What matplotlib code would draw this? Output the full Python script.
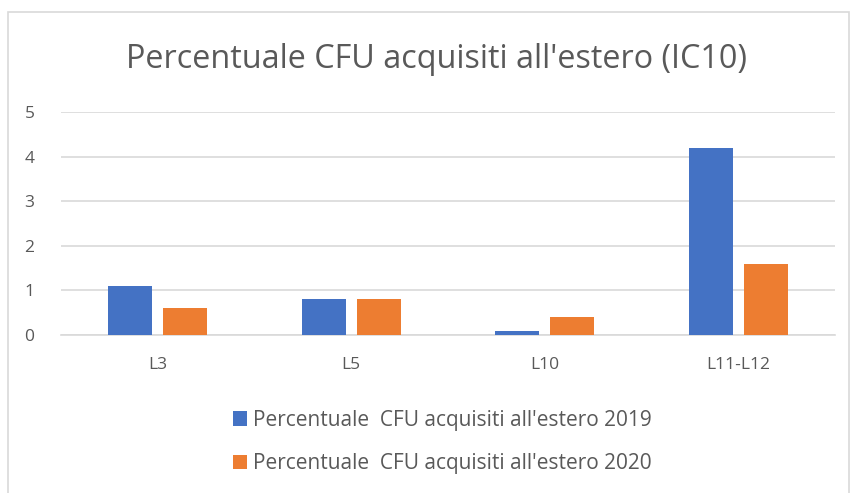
import numpy as np
import matplotlib.pyplot as plt
from matplotlib.patches import Rectangle

# data
categories = ['L3', 'L5', 'L10', 'L11-L12']
values_2019 = [1.1, 0.8, 0.1, 4.2]
values_2020 = [0.6, 0.8, 0.4, 1.6]
labels = ["Percentuale  CFU acquisiti all'estero 2019",
          "Percentuale  CFU acquisiti all'estero 2020"]
yticks = [0, 1, 2, 3, 4, 5]

plt.rcParams['font.family'] = ['Open Sans', 'DejaVu Sans']
txt = '#595959'

fig = plt.figure(figsize=(8.55, 4.93), dpi=100)
W, H = 855, 493

# chart frame
fig.patches.append(Rectangle((8 / W, -0.1), (849 - 8) / W, 1.1 - 12 / H,
                             transform=fig.transFigure, fill=False,
                             edgecolor='#d9d9d9', linewidth=1.2))

ax = fig.add_axes([61 / W, 1 - 335 / H, (835 - 61) / W, (335 - 112) / H])

x = np.arange(len(categories))
w = 0.227
off = (w + 0.057) / 2
ax.bar(x - off, values_2019, w, color='#4472c4', label=labels[0], zorder=3)
ax.bar(x + off, values_2020, w, color='#ed7d31', label=labels[1], zorder=3)

ax.set_xlim(-0.5, len(categories) - 0.5)
ax.set_ylim(0, 5)
ax.set_yticks(yticks)
ax.set_xticks(x)
ax.set_xticklabels(categories)
ax.yaxis.grid(True, color='#d9d9d9', linewidth=1.2, zorder=0)
ax.tick_params(length=0, colors=txt, labelsize=12.5)
ax.tick_params(axis='x', pad=16)
ax.tick_params(axis='y', pad=19)
for s in ax.spines.values():
    s.set_visible(False)
ax.spines['bottom'].set_visible(True)
ax.spines['bottom'].set_color('#d9d9d9')
ax.spines['bottom'].set_linewidth(1.2)

fig.text(437 / W, 1 - 60 / H, "Percentuale CFU acquisiti all'estero (IC10)",
         ha='center', va='center', fontsize=23.3, color=txt)

fig.legend(loc='center', bbox_to_anchor=(442 / W, 1 - 442 / H), ncol=1,
           frameon=False, fontsize=15, labelcolor=txt,
           handlelength=0.7, handleheight=0.7, handletextpad=0.25,
           labelspacing=1.1)

fig.savefig('out.png', dpi=100)
